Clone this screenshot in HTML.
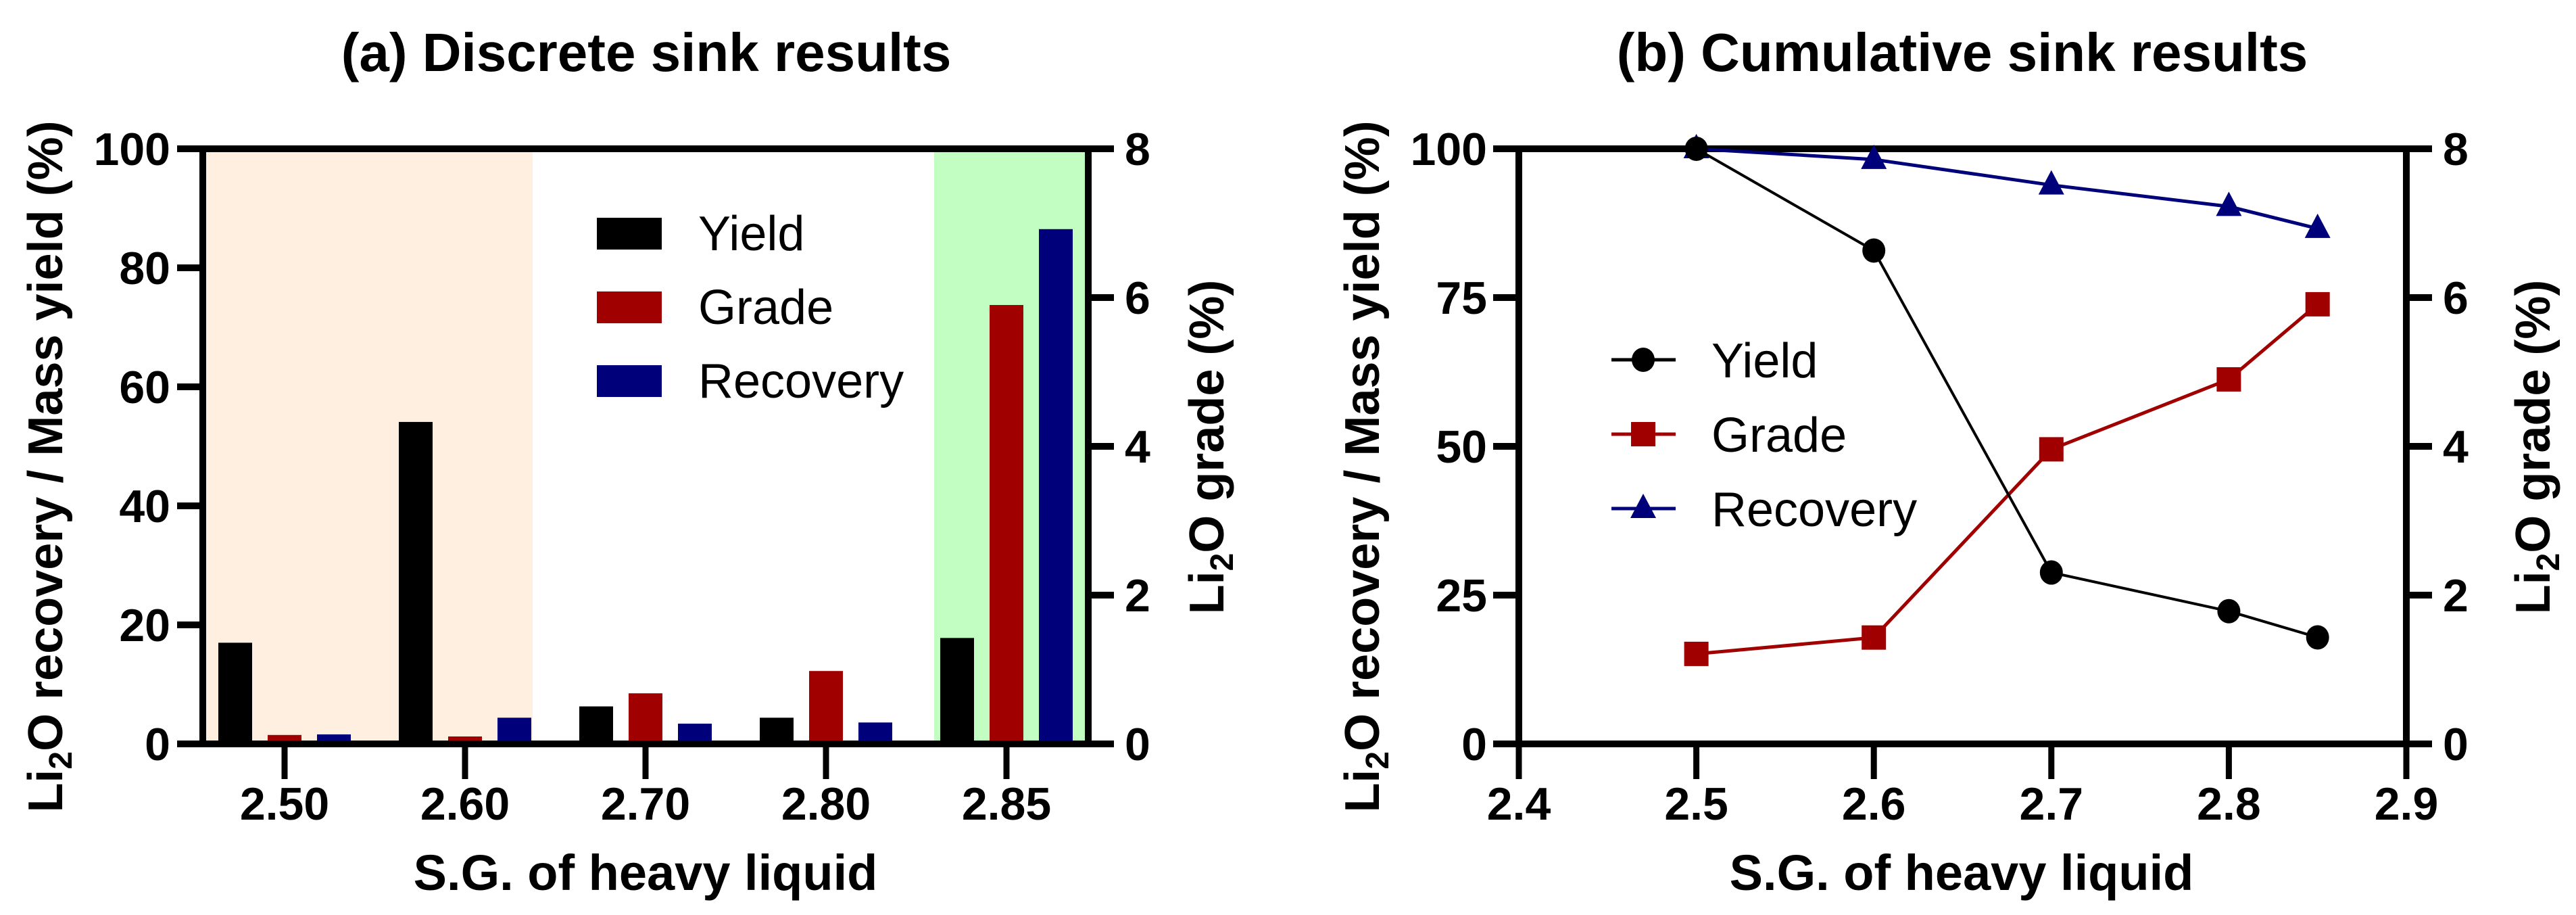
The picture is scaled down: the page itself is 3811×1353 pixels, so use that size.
<!DOCTYPE html>
<html><head><meta charset="utf-8"><style>
html,body{margin:0;padding:0;background:#fff;}
svg{display:block;font-family:"Liberation Sans",Arial,sans-serif;}
</style></head><body>
<svg id="chart" width="3811" height="1353" viewBox="0 0 3811 1353" xmlns="http://www.w3.org/2000/svg">
<g id="pa"></g>
<g id="pb"></g>
</svg>
<script>
// Panel (a) data
const aCategories = ["2.50","2.60","2.70","2.80","2.85"];
const aYield = [17.0, 54.1, 6.3, 4.4, 17.8];
const aGrade = [0.12, 0.10, 0.68, 0.98, 5.9];
const aRecovery = [1.6, 4.4, 3.4, 3.6, 86.5];
const aLeftTicks = [0,20,40,60,80,100];
const aRightTicks = [0,2,4,6,8];
// Panel (b) data
const bX = [2.5, 2.6, 2.7, 2.8, 2.85];
const bYield = [100, 82.9, 28.8, 22.3, 17.9];
const bGrade = [1.21, 1.43, 3.96, 4.9, 5.91];
const bRecovery = [100, 98.2, 93.9, 90.3, 86.6];
const bXTicks = [2.4, 2.5, 2.6, 2.7, 2.8, 2.9];
const bLeftTicks = [0,25,50,75,100];
const bRightTicks = [0,2,4,6,8];

const NS = "http://www.w3.org/2000/svg";
function mk(parent, tag, attrs, text){
  const e = document.createElementNS(NS, tag);
  for (const k in attrs) e.setAttribute(k, attrs[k]);
  if (text !== undefined) e.textContent = text;
  parent.appendChild(e);
  return e;
}
const TOP = 220, BOT = 1100;
const yL = v => BOT - (v/100)*(BOT-TOP);
const yR = v => BOT - (v/8)*(BOT-TOP);

// ---------- Panel A ----------
const pa = document.getElementById('pa');
const aL = 300, aR = 1610;
let e;
e = mk(pa,'rect',{x:305,y:TOP,width:483,height:BOT-TOP,fill:'#feefe0'});


e = mk(pa,'rect',{x:1382,y:TOP,width:228,height:BOT-TOP,fill:'#c2fec2'});


const groupX = i => 421 + i*267;
const bw = 50, step = 73;
aCategories.forEach((c,i)=>{
  const cx = groupX(i);
  let r;
  r = mk(pa,'rect',{x:cx-step-bw/2,y:yL(aYield[i]),width:bw,height:BOT-yL(aYield[i]),fill:'#000'});
  
  
  r = mk(pa,'rect',{x:cx-bw/2,y:yR(aGrade[i]),width:bw,height:BOT-yR(aGrade[i]),fill:'#a00000'});
  
  
  r = mk(pa,'rect',{x:cx+step-bw/2,y:yL(aRecovery[i]),width:bw,height:BOT-yL(aRecovery[i]),fill:'#00007a'});
  
  
  e = mk(pa,'line',{x1:cx,x2:cx,y1:BOT,y2:1152,stroke:'#000','stroke-width':9});
  
  
  e = mk(pa,'text',{x:cx,y:1212,'font-size':68,'font-weight':'bold','text-anchor':'middle'},c);
  
  
});
e = mk(pa,'path',{d:`M${aL},${TOP}V${BOT}M${aR},${TOP}V${BOT}M${aL-38},${TOP}H${aR+38}M${aL-38},${BOT}H${aR+38}`,stroke:'#000','stroke-width':10,fill:'none'});


aLeftTicks.forEach(v=>{
  e = mk(pa,'line',{x1:aL-38,x2:aL,y1:yL(v),y2:yL(v),stroke:'#000','stroke-width':10});
  
  
  e = mk(pa,'text',{x:252,y:yL(v)+24,'font-size':68,'font-weight':'bold','text-anchor':'end'},String(v));
  
  
});
aRightTicks.forEach(v=>{
  e = mk(pa,'line',{x1:aR,x2:aR+38,y1:yR(v),y2:yR(v),stroke:'#000','stroke-width':10});
  
  
  e = mk(pa,'text',{x:1664,y:yR(v)+24,'font-size':68,'font-weight':'bold'},String(v));
  
  
});
e = mk(pa,'text',{x:956,y:105,'font-size':80,'font-weight':'bold','text-anchor':'middle'},'(a) Discrete sink results');


e = mk(pa,'text',{x:955,y:1316,'font-size':74,'font-weight':'bold','text-anchor':'middle'},'S.G. of heavy liquid');


function ylabel(parent, x, y, main, name){
  const t = mk(parent,'text',{x:0,y:0,'font-size':72,'font-weight':'bold','text-anchor':'middle',transform:`translate(${x},${y}) rotate(-90)`});
  
  
  mk(t,'tspan',{},'Li');
  mk(t,'tspan',{'font-size':48,dy:14},'2');
  mk(t,'tspan',{dy:-14},'O '+main);
}
ylabel(pa, 92, 690, 'recovery / Mass yield (%)', 'y-axis-title-a');
ylabel(pa, 1810, 661, 'grade (%)', 'y2-axis-title-a');
const legNames = ['Yield','Grade','Recovery'];
const legCols = ['#000','#a00000','#00007a'];
legNames.forEach((n,i)=>{
  const y = 322 + i*109;
  e = mk(pa,'rect',{x:883,y:y,width:96,height:47,fill:legCols[i]});
  
  
  e = mk(pa,'text',{x:1033,y:y+48,'font-size':72},n);
  
  
});

// ---------- Panel B ----------
const pb = document.getElementById('pb');
const bL = 2247, bR = 3560;
const xB = v => bL + (v-2.4)/0.5*(bR-bL);
e = mk(pb,'path',{d:`M${bL},${TOP}V${BOT}M${bR},${TOP}V${BOT}M${bL-38},${TOP}H${bR+38}M${bL-38},${BOT}H${bR+38}`,stroke:'#000','stroke-width':10,fill:'none'});


bXTicks.forEach(v=>{
  e = mk(pb,'line',{x1:xB(v),x2:xB(v),y1:BOT,y2:1152,stroke:'#000','stroke-width':9});
  
  
  e = mk(pb,'text',{x:xB(v),y:1212,'font-size':68,'font-weight':'bold','text-anchor':'middle'},v.toFixed(1));
  
  
});
bLeftTicks.forEach(v=>{
  e = mk(pb,'line',{x1:bL-38,x2:bL,y1:yL(v),y2:yL(v),stroke:'#000','stroke-width':10});
  
  
  e = mk(pb,'text',{x:2200,y:yL(v)+24,'font-size':68,'font-weight':'bold','text-anchor':'end'},String(v));
  
  
});
bRightTicks.forEach(v=>{
  e = mk(pb,'line',{x1:bR,x2:bR+38,y1:yR(v),y2:yR(v),stroke:'#000','stroke-width':10});
  
  
  e = mk(pb,'text',{x:3614,y:yR(v)+24,'font-size':68,'font-weight':'bold'},String(v));
  
  
});
e = mk(pb,'text',{x:2903,y:105,'font-size':80,'font-weight':'bold','text-anchor':'middle'},'(b) Cumulative sink results');


e = mk(pb,'text',{x:2902,y:1316,'font-size':74,'font-weight':'bold','text-anchor':'middle'},'S.G. of heavy liquid');


ylabel(pb, 2040, 690, 'recovery / Mass yield (%)', 'y-axis-title-b');
ylabel(pb, 3772, 661, 'grade (%)', 'y2-axis-title-b');

function marker(parent, type, x, y, col){
  if (type==='circle') return mk(parent,'ellipse',{cx:x,cy:y,rx:17,ry:18,fill:col});
  if (type==='square') return mk(parent,'rect',{x:x-18,y:y-18,width:36,height:36,fill:col});
  return mk(parent,'polygon',{points:`${x},${y-22} ${x+19},${y+14} ${x-19},${y+14}`,fill:col});
}
function series(vals, yf, col, w, type, name){
  const pts = bX.map((x,i)=>xB(x)+','+yf(vals[i])).join(' ');
  const l = mk(pb,'polyline',{points:pts,fill:'none',stroke:col,'stroke-width':w});
  
  
  bX.forEach((x,i)=>{
    const m = marker(pb,type,xB(x),yf(vals[i]),col);
    
    
  });
}
series(bRecovery, yL, '#00007a', 5, 'triangle', 'recovery');
series(bGrade, yR, '#a00000', 5, 'square', 'grade');
series(bYield, yL, '#000', 4, 'circle', 'yield');

const legTypes = ['circle','square','triangle'];
legNames.forEach((n,i)=>{
  const y = 532 + i*110;
  e = mk(pb,'line',{x1:2384,x2:2479,y1:y,y2:y,stroke:legCols[i],'stroke-width':5});
  
  
  e = marker(pb,legTypes[i],2431,y,legCols[i]);
  
  
  e = mk(pb,'text',{x:2532,y:y+26,'font-size':72},n);
  
  
});
</script>
</body></html>
